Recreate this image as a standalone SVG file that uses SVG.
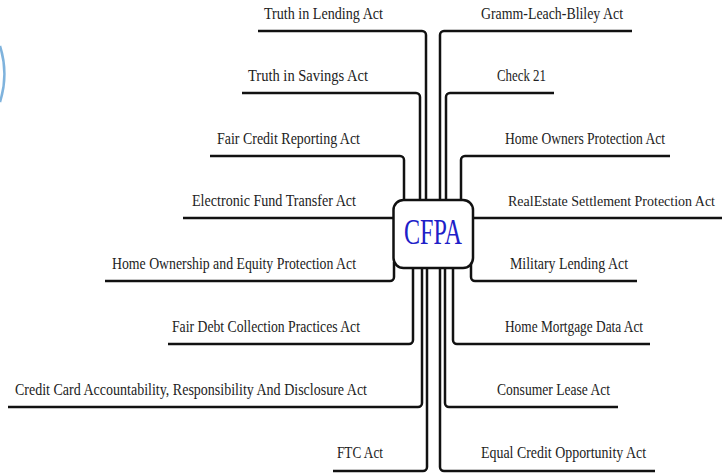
<svg xmlns="http://www.w3.org/2000/svg" width="722" height="476" viewBox="0 0 722 476">
  <style>
    .wire { fill: none; stroke: #111; stroke-width: 2.5; stroke-linecap: butt; }
    .lbl { font-family: "Liberation Serif", "Times New Roman", serif; font-size: 16px; fill: #222; }
    .lbl.long { font-size: 14px; }
    .hub { fill: #fff; stroke: #111; stroke-width: 2.5; }
    .hubtxt { font-family: "Liberation Serif", "Times New Roman", serif; font-size: 36px; fill: #2020c8; }
  </style>

  <!-- partial circle at the left edge -->
  <path d="M0,46 A93,93 0 0 1 0,102" fill="none" stroke="#7fb3dd" stroke-width="2.5"/>

  <g id="connectors">
    <!-- left, above hub -->
    <path class="wire" d="M258,31 H422 A4,4 0 0 1 426,35 V204"/>
    <path class="wire" d="M242,93 H416 A4,4 0 0 1 420,97 V204"/>
    <path class="wire" d="M210,156 H400 A4,4 0 0 1 404,160 V204"/>
    <path class="wire" d="M183,218 H396"/>
    <!-- left, below hub -->
    <path class="wire" d="M105,281 H390 A4,4 0 0 0 394,277 V262"/>
    <path class="wire" d="M168,344 H409 A4,4 0 0 0 413,340 V264"/>
    <path class="wire" d="M8,407 H418 A4,4 0 0 0 422,403 V264"/>
    <path class="wire" d="M333,471 H423 A4,4 0 0 0 427,467 V264"/>
    <!-- right, above hub -->
    <path class="wire" d="M632,31 H444 A4,4 0 0 0 440,35 V204"/>
    <path class="wire" d="M554,93 H450 A4,4 0 0 0 446,97 V204"/>
    <path class="wire" d="M670,156 H465 A4,4 0 0 0 461,160 V204"/>
    <path class="wire" d="M722,218 H470"/>
    <!-- right, below hub -->
    <path class="wire" d="M637,281 H475 A4,4 0 0 1 471,277 V262"/>
    <path class="wire" d="M650,344 H457 A4,4 0 0 1 453,340 V264"/>
    <path class="wire" d="M618,407 H449 A4,4 0 0 1 445,403 V264"/>
    <path class="wire" d="M655,471 H444 A4,4 0 0 1 440,467 V264"/>
  </g>

  <g id="hub">
    <rect class="hub" x="393.5" y="200" width="79.5" height="68" rx="10"/>
    <text class="hubtxt" x="404" y="244" textLength="58" lengthAdjust="spacingAndGlyphs">CFPA</text>
  </g>

  <g id="truth-in-lending"><text class="lbl" x="264" y="19" textLength="119" lengthAdjust="spacingAndGlyphs">Truth in Lending Act</text></g>
  <g id="truth-in-savings"><text class="lbl" x="248" y="81" textLength="120" lengthAdjust="spacingAndGlyphs">Truth in Savings Act</text></g>
  <g id="fair-credit-reporting"><text class="lbl" x="217" y="144" textLength="143" lengthAdjust="spacingAndGlyphs">Fair Credit Reporting Act</text></g>
  <g id="electronic-fund-transfer"><text class="lbl" x="192" y="206" textLength="164" lengthAdjust="spacingAndGlyphs">Electronic Fund Transfer Act</text></g>
  <g id="home-ownership-equity"><text class="lbl" x="112" y="269" textLength="244" lengthAdjust="spacingAndGlyphs">Home Ownership and Equity Protection Act</text></g>
  <g id="fair-debt-collection"><text class="lbl" x="172" y="332" textLength="188" lengthAdjust="spacingAndGlyphs">Fair Debt Collection Practices Act</text></g>
  <g id="credit-card"><text class="lbl" x="15" y="395" textLength="352" lengthAdjust="spacingAndGlyphs">Credit Card Accountability, Responsibility And Disclosure Act</text></g>
  <g id="ftc"><text class="lbl" x="337" y="458" textLength="46" lengthAdjust="spacingAndGlyphs">FTC Act</text></g>

  <g id="gramm-leach-bliley"><text class="lbl" x="481" y="19" textLength="142" lengthAdjust="spacingAndGlyphs">Gramm-Leach-Bliley Act</text></g>
  <g id="check-21"><text class="lbl" x="497" y="81" textLength="49" lengthAdjust="spacingAndGlyphs">Check 21</text></g>
  <g id="home-owners-protection"><text class="lbl" x="505" y="144" textLength="160" lengthAdjust="spacingAndGlyphs">Home Owners Protection Act</text></g>
  <g id="real-estate-settlement"><text class="lbl long" x="508" y="206" textLength="207" lengthAdjust="spacingAndGlyphs">RealEstate Settlement Protection Act</text></g>
  <g id="military-lending"><text class="lbl" x="510" y="269" textLength="118" lengthAdjust="spacingAndGlyphs">Military Lending Act</text></g>
  <g id="home-mortgage-data"><text class="lbl" x="505" y="332" textLength="138" lengthAdjust="spacingAndGlyphs">Home Mortgage Data Act</text></g>
  <g id="consumer-lease"><text class="lbl" x="497" y="395" textLength="113" lengthAdjust="spacingAndGlyphs">Consumer Lease Act</text></g>
  <g id="equal-credit-opportunity"><text class="lbl" x="481" y="458" textLength="165" lengthAdjust="spacingAndGlyphs">Equal Credit Opportunity Act</text></g>
</svg>
